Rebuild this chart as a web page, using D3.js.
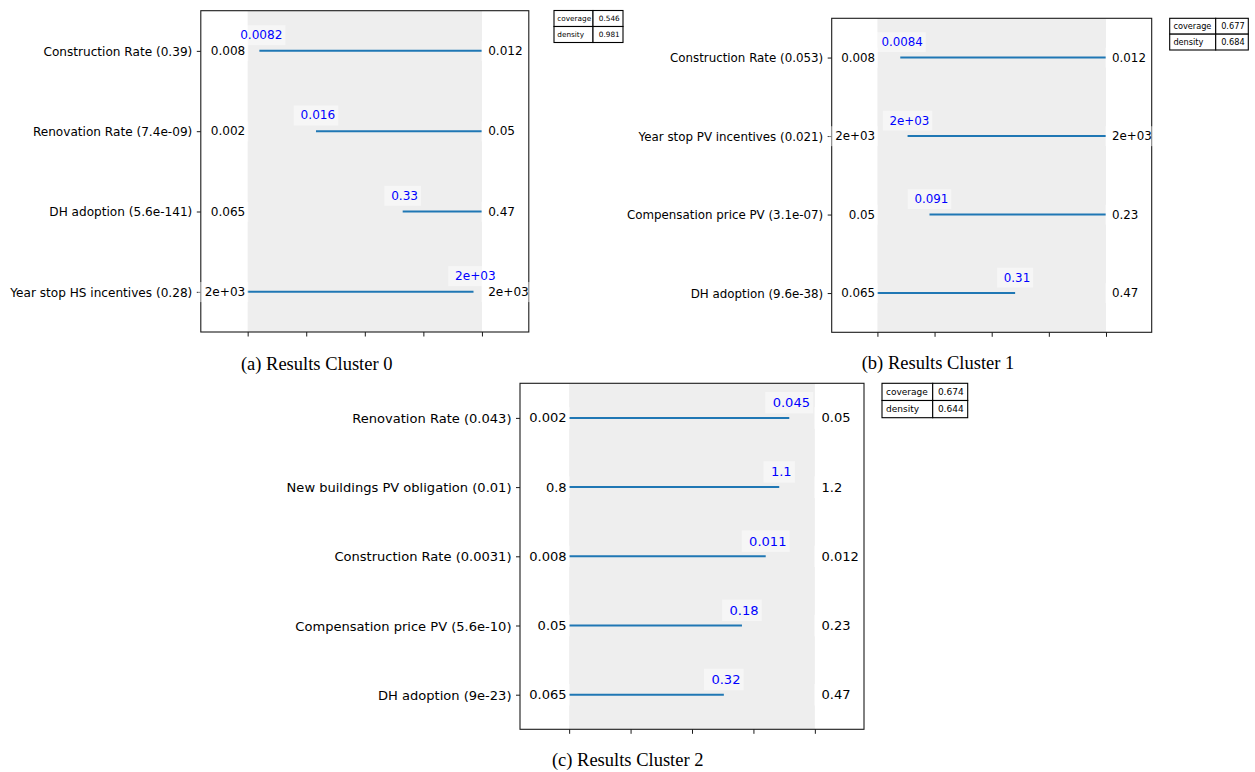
<!DOCTYPE html>
<html>
<head>
<meta charset="utf-8">
<script src="https://cdn.jsdelivr.net/npm/d3@7"></script>
<style>
  html, body { margin: 0; padding: 0; background: #ffffff; }
  svg text { white-space: pre; }
</style>
</head>
<body>
<svg id="fig" width="1255" height="772"></svg>
<script>
// ---- Cluster 0 ----
const cluster0Names = ["Construction Rate", "Renovation Rate", "DH adoption", "Year stop HS incentives"];
const cluster0PValues = [0.39, 7.4e-9, 5.6e-141, 0.28];
const cluster0Min = [0.008, 0.002, 0.065, 2020];
const cluster0Max = [0.012, 0.05, 0.47, 2045];
const cluster0Low = [0.0082, 0.016, 0.333, 2020];
const cluster0High = [0.012, 0.05, 0.47, 2044.1];
const cluster0Stats = [0.546, 0.981];

// ---- Cluster 1 ----
const cluster1Names = ["Construction Rate", "Year stop PV incentives", "Compensation price PV", "DH adoption"];
const cluster1PValues = [0.053, 0.021, 3.1e-7, 9.6e-38];
const cluster1Min = [0.008, 2020, 0.05, 0.065];
const cluster1Max = [0.012, 2045, 0.23, 0.47];
const cluster1Low = [0.0084, 2023.3, 0.091, 0.065];
const cluster1High = [0.012, 2045, 0.23, 0.309];
const cluster1Stats = [0.677, 0.684];

// ---- Cluster 2 ----
const cluster2Names = ["Renovation Rate", "New buildings PV obligation", "Construction Rate", "Compensation price PV", "DH adoption"];
const cluster2PValues = [0.043, 0.01, 0.0031, 5.6e-10, 9e-23];
const cluster2Min = [0.002, 0.8, 0.008, 0.05, 0.065];
const cluster2Max = [0.05, 1.2, 0.012, 0.23, 0.47];
const cluster2Low = [0.002, 0.8, 0.008, 0.05, 0.065];
const cluster2High = [0.045, 1.142, 0.0112, 0.1766, 0.32];
const cluster2Stats = [0.674, 0.644];

const tableLabels = ["coverage", "density"];
const captions = ["(a) Results Cluster 0", "(b) Results Cluster 1", "(c) Results Cluster 2"];
const normTicks = [0, 0.25, 0.5, 0.75, 1];

// Python-style "{:.Ng}" formatting
function fmtG(v, p) {
  if (v === 0) return "0";
  const e = Math.floor(Math.log10(Math.abs(v)));
  let s = (e < -4 || e >= p) ? Number(v).toExponential(p - 1) : Number(v).toPrecision(p);
  let [mant, exp] = s.split("e");
  if (mant.includes(".")) mant = mant.replace(/0+$/, "").replace(/\.$/, "");
  if (exp !== undefined) {
    const sign = exp[0] === "-" ? "-" : "+";
    let digits = exp.replace(/^[+-]/, "");
    if (digits.length < 2) digits = "0" + digits;
    return mant + "e" + sign + digits;
  }
  return mant;
}

const clusters = [
  { names: cluster0Names, p: cluster0PValues, min: cluster0Min, max: cluster0Max, low: cluster0Low, high: cluster0High, stats: cluster0Stats },
  { names: cluster1Names, p: cluster1PValues, min: cluster1Min, max: cluster1Max, low: cluster1Low, high: cluster1High, stats: cluster1Stats },
  { names: cluster2Names, p: cluster2PValues, min: cluster2Min, max: cluster2Max, low: cluster2Low, high: cluster2High, stats: cluster2Stats }
];

// panel placement on the page
const layouts = [
  { left: 200.8, right: 528.8, top: 10.7, bottom: 332, k: 1.0,
    table: { x: 554, y: 10.5, w1: 39, w2: 30, h: 32, fs: 7.3 }, cap: { x: 316.7, y: 370 } },
  { left: 831.7, right: 1151.7, top: 18.3, bottom: 332.3, k: 0.98,
    table: { x: 1169.7, y: 18.3, w1: 46, w2: 32.6, h: 31.7, fs: 8.2 }, cap: { x: 938, y: 369.3 } },
  { left: 520, right: 864, top: 383.3, bottom: 729.3, k: 1.08,
    table: { x: 882, y: 383.3, w1: 50.7, w2: 35, h: 34.4, fs: 9 }, cap: { x: 627.7, y: 766 } }
];

const svg = d3.select("#fig");
svg.append("rect").attr("width", 1255).attr("height", 772).attr("fill", "#ffffff");

const SANS = "'DejaVu Sans', sans-serif";
const SERIF = "'Liberation Serif', 'Times New Roman', serif";
const LINE = "#1f77b4";
const SPINE = "#1a1a1a";

// white translucent box behind a text element
function boxBehind(g, textSel, pad) {
  const node = textSel.node();
  const bb = node.getBBox();
  g.insert("rect", () => node)
    .attr("x", bb.x - pad).attr("y", bb.y - pad)
    .attr("width", bb.width + 2 * pad).attr("height", bb.height + 2 * pad)
    .attr("fill", "#ffffff").attr("fill-opacity", 0.45);
}

clusters.forEach((c, i) => {
  const L = layouts[i];
  const fs = 12.1 * L.k;
  const g = svg.append("g");
  const n = c.names.length;
  const rows = d3.range(n);

  const x = d3.scaleLinear().domain([-0.2, 1.2]).range([L.left, L.right]);
  const y = d3.scalePoint().domain(rows).range([L.top, L.bottom]).padding(0.5);
  const step = y.step();

  // restricted range band
  g.append("rect")
    .attr("x", x(0)).attr("y", L.top)
    .attr("width", x(1) - x(0)).attr("height", L.bottom - L.top)
    .attr("fill", "#eeeeee");

  // box limits, normalised per uncertainty
  rows.forEach(j => {
    const norm = d3.scaleLinear().domain([c.min[j], c.max[j]]).range([0, 1]);
    g.append("line")
      .attr("x1", x(norm(c.low[j]))).attr("x2", x(norm(c.high[j])))
      .attr("y1", y(j)).attr("y2", y(j))
      .attr("stroke", LINE).attr("stroke-width", 2);
  });

  // frame
  g.append("rect")
    .attr("x", L.left).attr("y", L.top)
    .attr("width", L.right - L.left).attr("height", L.bottom - L.top)
    .attr("fill", "none").attr("stroke", SPINE).attr("stroke-width", 1.1);

  // y axis with uncertainty names and p-values
  const yAxis = d3.axisLeft(y).tickSize(4).tickPadding(4.5)
    .tickFormat(j => `${c.names[j]} (${fmtG(c.p[j], 2)})`);
  const ya = g.append("g").attr("transform", `translate(${L.left},0)`).call(yAxis);
  ya.select(".domain").remove();
  ya.selectAll(".tick line").attr("stroke", SPINE).attr("stroke-width", 1);
  ya.selectAll(".tick text").attr("font-family", SANS).attr("font-size", fs)
    .attr("fill", "#000").attr("dy", "0.35em");

  // x axis ticks without labels
  const xAxis = d3.axisBottom(x).tickValues(normTicks).tickSize(4.5).tickFormat("");
  const xa = g.append("g").attr("transform", `translate(0,${L.bottom})`).call(xAxis);
  xa.select(".domain").remove();
  xa.selectAll(".tick line").attr("stroke", SPINE).attr("stroke-width", 1);

  // range labels and restricted bound labels
  rows.forEach(j => {
    const norm = d3.scaleLinear().domain([c.min[j], c.max[j]]).range([0, 1]);
    const lo = g.append("text").text(" " + fmtG(c.min[j], 2))
      .attr("x", x(-0.01)).attr("y", y(j)).attr("dy", "0.35em")
      .attr("text-anchor", "end").attr("font-family", SANS).attr("font-size", fs).attr("fill", "#000");
    boxBehind(g, lo, 0.25 * fs);
    const hi = g.append("text").text(" " + fmtG(c.max[j], 2))
      .attr("x", x(1.01)).attr("y", y(j)).attr("dy", "0.35em")
      .attr("text-anchor", "start").attr("font-family", SANS).attr("font-size", fs).attr("fill", "#000");
    boxBehind(g, hi, 0.25 * fs);

    const bounds = [];
    if (c.low[j] !== c.min[j]) bounds.push(c.low[j]);
    if (c.high[j] !== c.max[j]) bounds.push(c.high[j]);
    bounds.forEach(v => {
      const t = g.append("text").text(" " + fmtG(v, 2))
        .attr("x", x(norm(v))).attr("y", y(j) - 0.11 * step - 0.236 * fs)
        .attr("text-anchor", "middle").attr("font-family", SANS).attr("font-size", fs).attr("fill", "#0000ff");
      boxBehind(g, t, 0.25 * fs);
    });
  });

  // coverage / density table
  const T = L.table;
  const tg = svg.append("g");
  const rh = T.h / 2;
  tableLabels.forEach((lab, r) => {
    const yy = T.y + r * rh;
    tg.append("rect").attr("x", T.x).attr("y", yy).attr("width", T.w1).attr("height", rh)
      .attr("fill", "#fff").attr("stroke", "#000").attr("stroke-width", 1.1);
    tg.append("rect").attr("x", T.x + T.w1).attr("y", yy).attr("width", T.w2).attr("height", rh)
      .attr("fill", "#fff").attr("stroke", "#000").attr("stroke-width", 1.1);
    tg.append("text").text(lab)
      .attr("x", T.x + 0.45 * T.fs).attr("y", yy + rh / 2).attr("dy", "0.35em")
      .attr("font-family", SANS).attr("font-size", T.fs).attr("fill", "#000");
    tg.append("text").text(fmtG(c.stats[r], 3))
      .attr("x", T.x + T.w1 + T.w2 - 0.45 * T.fs).attr("y", yy + rh / 2).attr("dy", "0.35em")
      .attr("text-anchor", "end")
      .attr("font-family", SANS).attr("font-size", T.fs).attr("fill", "#000");
  });

  // caption
  svg.append("text").text(captions[i])
    .attr("x", L.cap.x).attr("y", L.cap.y).attr("text-anchor", "middle")
    .attr("font-family", SERIF).attr("font-size", 18.5).attr("fill", "#000");
});
</script>
</body>
</html>
